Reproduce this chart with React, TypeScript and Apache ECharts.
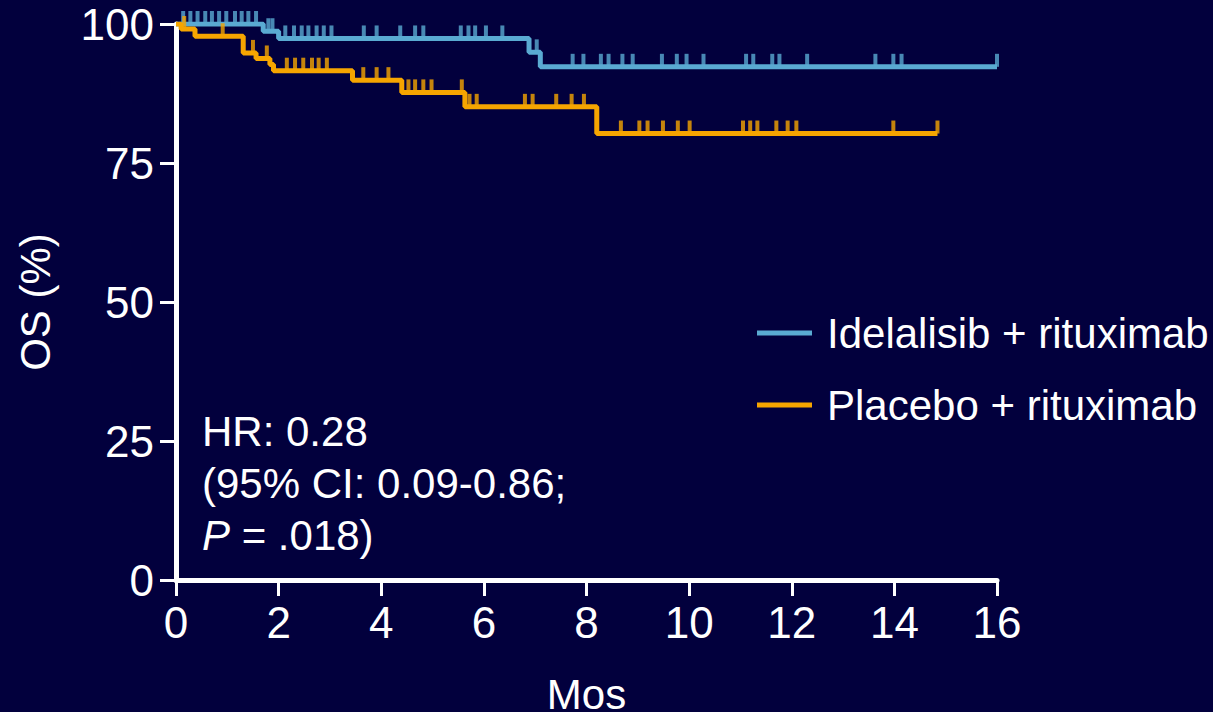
import React, { useEffect, useRef } from "react";
import * as echarts from "echarts";

const FONT = "'Liberation Sans', Arial, Helvetica, sans-serif";
const BG = "#02003d";
const BLUE = "#5aaad2";
const ORANGE = "#f6a500";

// Kaplan-Meier step data (months, OS %)
const idelaTimes = [0, 1.7, 2.0, 6.88, 7.1, 16.0];
const idelaSurv = [100, 98.7, 97.4, 94.9, 92.3, 92.3];
const idelaCensor = [
  0.14, 0.28, 0.42, 0.57, 0.7, 0.84, 0.98, 1.15, 1.28, 1.41, 1.56, 1.8, 1.88,
  2.13, 2.3, 2.45, 2.58, 2.74, 2.88, 3.03, 3.66, 3.91, 4.37, 4.66, 4.82, 5.55,
  5.7, 5.83, 6.04, 6.36, 7.03, 7.73, 7.94, 8.28, 8.43, 8.7, 8.9, 9.47, 9.76,
  9.95, 10.28, 11.11, 11.25, 11.62, 11.76, 12.3, 13.63, 13.98, 14.14, 16.0,
];

const placeboTimes = [0, 0.1, 0.37, 1.31, 1.56, 1.83, 1.9, 3.44, 4.4, 5.63, 8.2, 14.84];
const placeboSurv = [100, 99.1, 97.8, 94.8, 93.8, 92.7, 91.6, 89.9, 87.7, 85.1, 80.3, 80.3];
const placeboCensor = [
  0.16, 0.91, 1.5, 1.77, 2.16, 2.32, 2.48, 2.65, 2.78, 2.94, 3.65, 3.91, 4.14,
  4.53, 4.66, 4.82, 4.98, 5.57, 5.72, 5.86, 6.8, 6.95, 7.41, 7.71, 7.95, 8.67,
  9.03, 9.19, 9.49, 9.78, 10.01, 11.05, 11.19, 11.33, 11.7, 11.92, 12.09,
  13.98, 14.84,
];

const seriesNames = ["Idelalisib + rituximab", "Placebo + rituximab"];
const annotationLines = ["HR: 0.28", "(95% CI: 0.09-0.86;", "{i|P} = .018)"];

function survAt(times: number[], surv: number[], t: number) {
  let v = surv[0];
  for (let i = 0; i < times.length; i++) if (times[i] <= t) v = surv[i];
  return v;
}

export default function App() {
  const ref = useRef<HTMLDivElement>(null);
  useEffect(() => {
    if (!ref.current) return;
    const chart = echarts.init(ref.current, null, { renderer: "svg" });
    const stepData = (t: number[], s: number[]) => t.map((x, i) => [x, s[i]]);
    const censorData = (c: number[], t: number[], s: number[]) =>
      c.map((x) => [x, survAt(t, s, x)]);
    const nameText = { color: "#ffffff", fontSize: 42, fontFamily: FONT };
    const tickText = { color: "#ffffff", fontSize: 44, fontFamily: FONT };
    chart.setOption({
      animation: false,
      backgroundColor: BG,
      grid: {
        left: 176,
        right: 216,
        top: 24,
        bottom: 132,
        containLabel: false,
        outerBoundsMode: "none",
      },
      legend: {
        data: seriesNames,
        orient: "vertical",
        left: 752,
        top: 306,
        icon: "rect",
        itemWidth: 55,
        itemHeight: 5,
        itemGap: 28,
        selectedMode: false,
        textStyle: { color: "#ffffff", fontSize: 42, fontFamily: FONT, lineHeight: 44, padding: [0, 0, 0, 10] },
      },
      xAxis: {
        type: "value",
        min: 0,
        max: 16,
        interval: 2,
        name: "Mos",
        nameLocation: "middle",
        nameGap: 93,
        nameTextStyle: nameText,
        axisLine: { show: true, lineStyle: { color: "#ffffff", width: 5 } },
        axisTick: { show: true, length: 16, lineStyle: { color: "#ffffff", width: 3 } },
        axisLabel: { ...tickText, margin: 20 },
        splitLine: { show: false },
      },
      yAxis: {
        type: "value",
        min: 0,
        max: 100,
        interval: 25,
        name: "OS (%)",
        nameLocation: "middle",
        nameGap: 120,
        nameRotate: 90,
        nameTextStyle: nameText,
        axisLine: { show: true, lineStyle: { color: "#ffffff", width: 5 } },
        axisTick: { show: true, length: 16, lineStyle: { color: "#ffffff", width: 3 } },
        axisLabel: { ...tickText, margin: 22 },
        splitLine: { show: false },
      },
      graphic: [
        {
          type: "text",
          left: 202,
          top: 405,
          style: {
            text: annotationLines.join("\n"),
            fill: "#ffffff",
            fontSize: 42,
            fontFamily: FONT,
            lineHeight: 52,
            rich: {
              i: { fontStyle: "italic", fontSize: 42, fontFamily: FONT, fill: "#ffffff", lineHeight: 52 },
            },
          },
        },
      ],
      series: [
        {
          name: seriesNames[0],
          type: "line",
          step: "end",
          data: stepData(idelaTimes, idelaSurv),
          showSymbol: false,
          symbol: "none",
          color: BLUE,
          lineStyle: { color: BLUE, width: 5 },
          z: 2,
        },
        {
          name: "idela-censor",
          type: "scatter",
          data: censorData(idelaCensor, idelaTimes, idelaSurv),
          symbol: "rect",
          symbolSize: [4, 13],
          symbolOffset: [0, "-50%"],
          itemStyle: { color: BLUE },
          z: 2,
        },
        {
          name: seriesNames[1],
          type: "line",
          step: "end",
          data: stepData(placeboTimes, placeboSurv),
          showSymbol: false,
          symbol: "none",
          color: ORANGE,
          lineStyle: { color: ORANGE, width: 5 },
          z: 3,
        },
        {
          name: "placebo-censor",
          type: "scatter",
          data: censorData(placeboCensor, placeboTimes, placeboSurv),
          symbol: "rect",
          symbolSize: [4, 13],
          symbolOffset: [0, "-50%"],
          itemStyle: { color: ORANGE },
          z: 3,
        },
      ],
    });
    return () => chart.dispose();
  }, []);
  return (
    <div
      ref={ref}
      style={{ position: "fixed", left: 0, top: 0, width: 1213, height: 712 }}
    />
  );
}
